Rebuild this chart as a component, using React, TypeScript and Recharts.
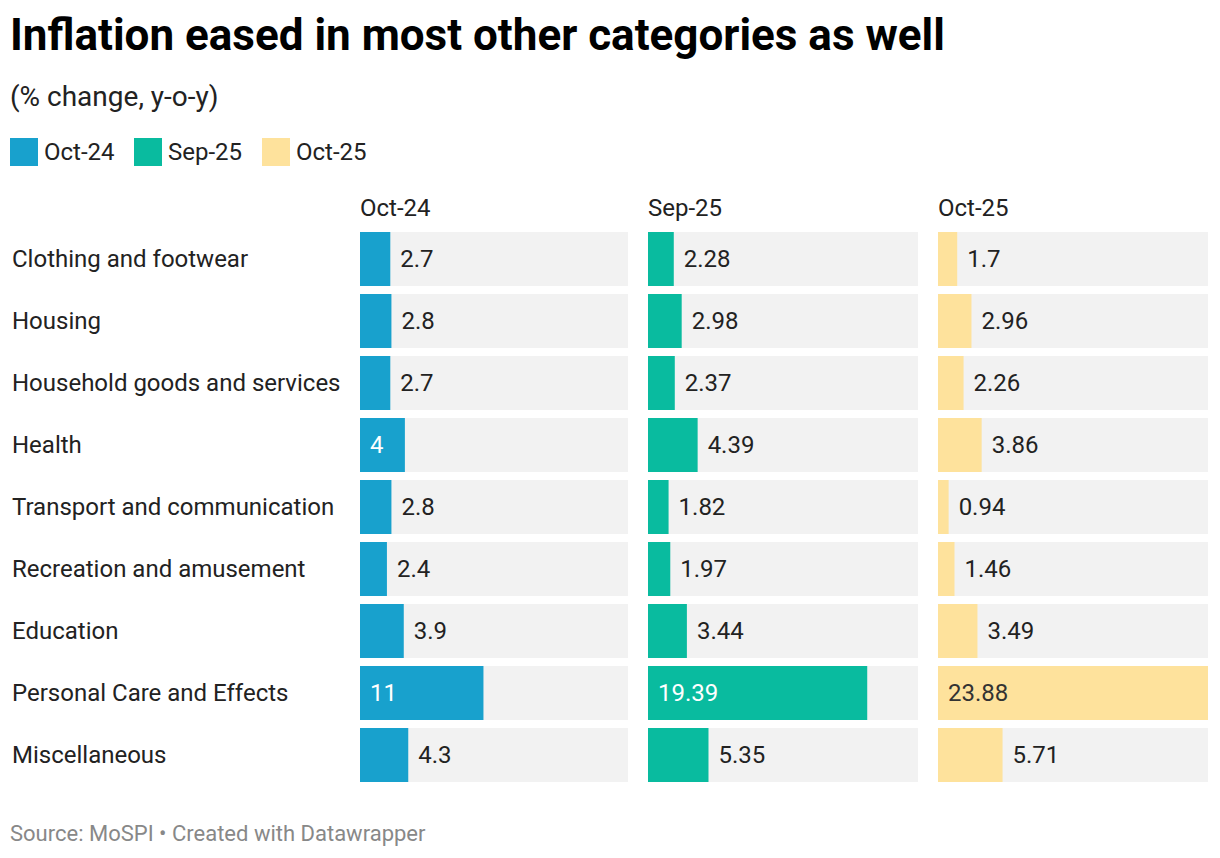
import React from "react";
import { BarChart, Bar, XAxis, YAxis, LabelList } from "recharts";

// Chart data
const categories = [
  "Clothing and footwear",
  "Housing",
  "Household goods and services",
  "Health",
  "Transport and communication",
  "Recreation and amusement",
  "Education",
  "Personal Care and Effects",
  "Miscellaneous",
];

const seriesNames = ["Oct-24", "Sep-25", "Oct-25"];

const oct24 = [2.7, 2.8, 2.7, 4, 2.8, 2.4, 3.9, 11, 4.3];
const sep25 = [2.28, 2.98, 2.37, 4.39, 1.82, 1.97, 3.44, 19.39, 5.35];
const oct25 = [1.7, 2.96, 2.26, 3.86, 0.94, 1.46, 3.49, 23.88, 5.71];

const DOMAIN_MAX = 23.88;
const FONT = "Roboto, 'Noto Sans', sans-serif";

const COLORS = ["#18a1cd", "#09bb9f", "#fee29c"];
const INSIDE_TEXT = ["#ffffff", "#ffffff", "#333333"];

const ROW_TOP = 228;
const CHART_HEIGHT = 558;

const tableFor = (values: number[]) =>
  categories.map((name, i) => ({ name, value: values[i] }));

// rough width of a value label at 24px
const labelWidth = (s: string) =>
  s.split("").reduce((w, ch) => w + (ch === "." ? 6 : 13.4), 0);

const makeLabel = (idx: number) => (props: any) => {
  const { x, y, width, height, value } = props;
  const text = String(value);
  const inside = labelWidth(text) + 20 < width;
  return (
    <text
      x={inside ? x + 10 : x + width + 10}
      y={y + height / 2}
      dominantBaseline="central"
      fontFamily={FONT}
      fontSize={24}
      fill={inside ? INSIDE_TEXT[idx] : "#222222"}
    >
      {text}
    </text>
  );
};

const CategoryTick = (props: any) => {
  const { y, payload } = props;
  return (
    <text
      x={12}
      y={y}
      dominantBaseline="central"
      fontFamily={FONT}
      fontSize={24}
      fill="#222222"
    >
      {payload.value}
    </text>
  );
};

interface PanelProps {
  idx: number;
  values: number[];
  left: number;
  width: number;
  withLabels?: boolean;
}

const Panel: React.FC<PanelProps> = ({ idx, values, left, width, withLabels }) => (
  <div style={{ position: "absolute", left, top: ROW_TOP }}>
    <BarChart
      width={width}
      height={CHART_HEIGHT}
      data={tableFor(values)}
      layout="vertical"
      margin={{ top: 0, right: 0, bottom: 0, left: 0 }}
    >
      <XAxis type="number" domain={[0, DOMAIN_MAX]} hide />
      {withLabels ? (
        <YAxis
          type="category"
          dataKey="name"
          width={360}
          axisLine={false}
          tickLine={false}
          interval={0}
          tick={<CategoryTick />}
        />
      ) : (
        <YAxis type="category" dataKey="name" hide />
      )}
      <Bar
        dataKey="value"
        fill={COLORS[idx]}
        barSize={54}
        background={{ fill: "#f2f2f2" }}
        isAnimationActive={false}
      >
        <LabelList dataKey="value" content={makeLabel(idx)} />
      </Bar>
    </BarChart>
  </div>
);

const panels = [
  { values: oct24, left: 0, width: 628, header: 360 },
  { values: sep25, left: 648, width: 270, header: 648 },
  { values: oct25, left: 938, width: 270, header: 938 },
];

const legendX = [10, 134, 262];

export default function App() {
  return (
    <div
      style={{
        position: "absolute",
        left: 0,
        top: 0,
        width: 1220,
        height: 858,
        background: "#fff",
        fontFamily: FONT,
        overflow: "hidden",
      }}
    >
      <div
        style={{
          position: "absolute",
          left: 10,
          top: 10,
          fontSize: 44,
          fontWeight: 700,
          color: "#000",
          lineHeight: "50px",
        }}
      >
        Inflation eased in most other categories as well
      </div>
      <div
        style={{
          position: "absolute",
          left: 10,
          top: 80,
          fontSize: 28,
          color: "#222",
          lineHeight: "34px",
        }}
      >
        (% change, y-o-y)
      </div>

      {seriesNames.map((s, i) => (
        <div
          key={s}
          style={{
            position: "absolute",
            left: legendX[i],
            top: 138,
            display: "flex",
            alignItems: "center",
            height: 28,
          }}
        >
          <span style={{ width: 28, height: 28, background: COLORS[i], display: "inline-block" }} />
          <span style={{ marginLeft: 6, fontSize: 24, color: "#222" }}>{s}</span>
        </div>
      ))}

      {panels.map((p, i) => (
        <div
          key={seriesNames[i]}
          style={{
            position: "absolute",
            left: p.header,
            top: 194,
            fontSize: 24,
            lineHeight: "28px",
            color: "#222",
          }}
        >
          {seriesNames[i]}
        </div>
      ))}

      {panels.map((p, i) => (
        <Panel
          key={i}
          idx={i}
          values={p.values}
          left={p.left}
          width={p.width}
          withLabels={i === 0}
        />
      ))}

      <div
        style={{
          position: "absolute",
          left: 10,
          top: 821,
          fontSize: 22,
          color: "#888",
          lineHeight: "26px",
        }}
      >
        Source: MoSPI • Created with Datawrapper
      </div>
    </div>
  );
}
